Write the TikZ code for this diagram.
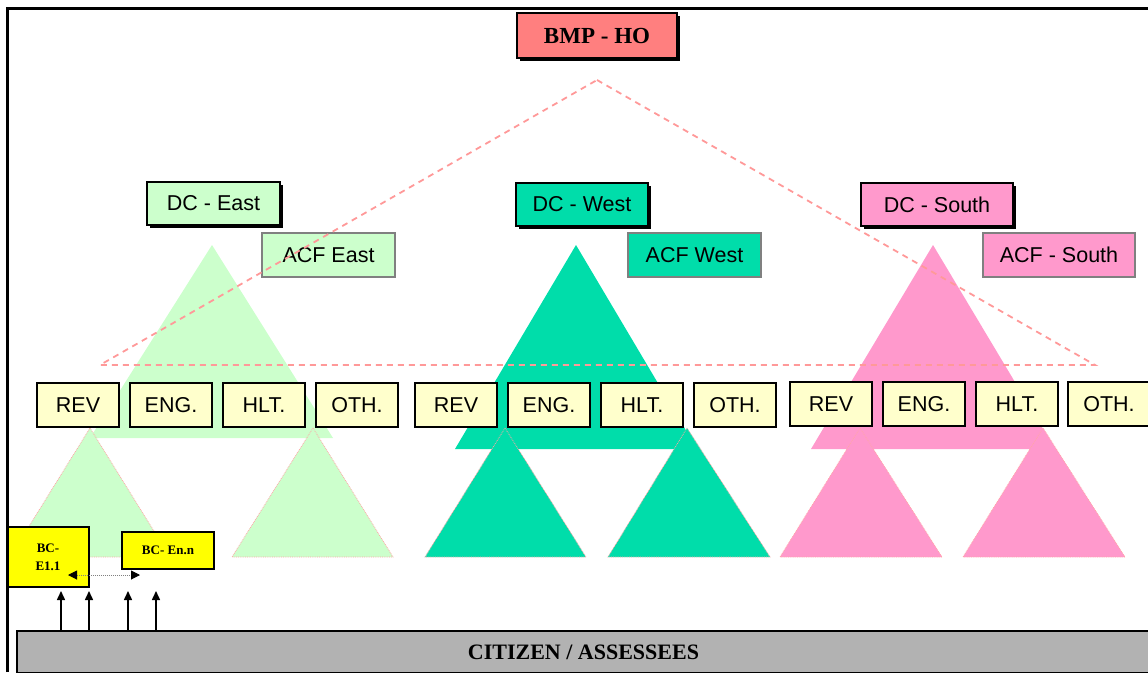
\documentclass[tikz,border=0pt]{standalone}
\usepackage{fontspec}
\setmainfont{Liberation Serif}
\setsansfont{Liberation Sans}
\usetikzlibrary{positioning}
\usetikzlibrary{shadows}
\usetikzlibrary{arrows.meta}

\definecolor{hored}{HTML}{FF7F7F}
\definecolor{eastgreen}{HTML}{CCFFCC}
\definecolor{westteal}{HTML}{00DDAA}
\definecolor{southpink}{HTML}{FF99CC}
\definecolor{deptyellow}{HTML}{FFFFCC}
\definecolor{bcyellow}{HTML}{FFFF00}
\definecolor{citgray}{HTML}{B2B2B2}
\definecolor{dashpink}{HTML}{FF9999}

\begin{document}
\begin{tikzpicture}[x=1pt,y=-1pt,
	sfont/.style={font=\sffamily\fontsize{21.5}{24}\selectfont},
	dcbox/.style={draw,line width=2pt,sfont,minimum width=133pt,minimum height=43pt,
		drop shadow={shadow xshift=3pt,shadow yshift=-3pt,fill=black,opacity=1}},
	acfbox/.style={draw=gray,line width=1.5pt,sfont,minimum width=133pt,minimum height=44pt},
	dept/.style={draw,line width=2pt,fill=deptyellow,sfont,minimum width=82pt,minimum height=44pt,inner sep=0pt},
	bcbox/.style={draw,line width=1.8pt,fill=bcyellow,align=center,inner sep=0pt,
		font=\rmfamily\bfseries\fontsize{13}{18}\selectfont},
	tri/.style={draw=red!35,densely dotted,line width=0.8pt}]
	\useasboundingbox (0,0) rectangle (1148,672);

	% regional triangles
	\fill[eastgreen] (212,245) -- (333,438) -- (90,438) -- cycle;
	\fill[westteal] (576,245) -- (697,449) -- (455,449) -- cycle;
	\fill[southpink] (933,245) -- (1055,449) -- (811,449) -- cycle;

	% sub triangles
	\path[tri,fill=eastgreen] (90,428) -- (170,557) -- (10,557) -- cycle;
	\path[tri,fill=eastgreen] (313,428) -- (393,557) -- (232,557) -- cycle;
	\path[tri,fill=westteal] (505,428) -- (586,557) -- (425,557) -- cycle;
	\path[tri,fill=westteal] (687,428) -- (770,557) -- (608,557) -- cycle;
	\path[tri,fill=southpink] (860,428) -- (942,557) -- (780,557) -- cycle;
	\path[tri,fill=southpink] (1043,428) -- (1125,557) -- (963,557) -- cycle;

	\node (acfE) [acfbox,fill=eastgreen] at (328.5,255) {ACF East};
	\node (acfW) [acfbox,fill=westteal] at (694.5,255) {ACF West};
	\node (acfS) [acfbox,fill=southpink,minimum width=152pt] at (1059,255) {ACF - South};

	% span of control
	\draw[dashpink,line width=1.8pt,dash pattern=on 6pt off 5pt]
		(597,80) -- (1095,365) -- (100,365) -- cycle;

	\node (ho) [draw,line width=2pt,fill=hored,minimum width=160pt,minimum height=45pt,
		drop shadow={shadow xshift=3pt,shadow yshift=-3pt,fill=black,opacity=1},
		font=\rmfamily\bfseries\fontsize{23}{25}\selectfont] at (597,35.5) {BMP - HO};
	\node (dcE) [dcbox,fill=eastgreen] at (213.5,203.5) {DC - East};
	\node (dcW) [dcbox,fill=westteal,minimum width=132pt] at (582,204.5) {DC - West};
	\node (dcS) [dcbox,fill=southpink,minimum width=152pt] at (937,204.5) {DC - South};

	\node (revE) [dept] at (78,405) {REV};
	\node (engE) [dept,right=9pt of revE] {ENG.};
	\node (hltE) [dept,right=9pt of engE] {HLT.};
	\node (othE) [dept,right=9pt of hltE] {OTH.};

	\node (revW) [dept] at (456,405) {REV};
	\node (engW) [dept,right=9pt of revW] {ENG.};
	\node (hltW) [dept,right=9pt of engW] {HLT.};
	\node (othW) [dept,right=9pt of hltW] {OTH.};

	\node (revS) [dept] at (831,404) {REV};
	\node (engS) [dept,right=9pt of revS] {ENG.};
	\node (hltS) [dept,right=9pt of engS] {HLT.};
	\node (othS) [dept,right=8pt of hltS] {OTH.};

	\node (bc11) [bcbox,minimum width=82pt,minimum height=60pt] at (48,557) {BC-\\E1.1};
	\node (bcnn) [bcbox,minimum width=92pt,minimum height=37pt] at (168,550.5) {BC- En.n};

	\node (cit) [draw,line width=2pt,fill=citgray,minimum width=1133pt,minimum height=42pt,
		font=\rmfamily\bfseries\fontsize{22}{24}\selectfont] at (583.5,652) {CITIZEN / ASSESSEES};

	\coordinate (dl) at (68,575);
	\coordinate (dr) at (140,575);
	\draw[gray,densely dotted,line width=1pt,{Triangle[black,length=9pt,width=9pt]}-{Triangle[black,length=9pt,width=9pt]}] (dl) -- (dr);

	\coordinate (u1) at (61,591);
	\coordinate (u2) at (89,591);
	\coordinate (u3) at (128,591);
	\coordinate (u4) at (156,591);
	\draw[line width=1.5pt,-{Triangle[length=9pt,width=8pt]}] (cit.north -| u1) -- (u1);
	\draw[line width=1.5pt,-{Triangle[length=9pt,width=8pt]}] (cit.north -| u2) -- (u2);
	\draw[line width=1.5pt,-{Triangle[length=9pt,width=8pt]}] (cit.north -| u3) -- (u3);
	\draw[line width=1.5pt,-{Triangle[length=9pt,width=8pt]}] (cit.north -| u4) -- (u4);

	% frame
	\draw[line width=3pt] (7,672) -- (7,8) -- (1148,8);
\end{tikzpicture}
\end{document}
